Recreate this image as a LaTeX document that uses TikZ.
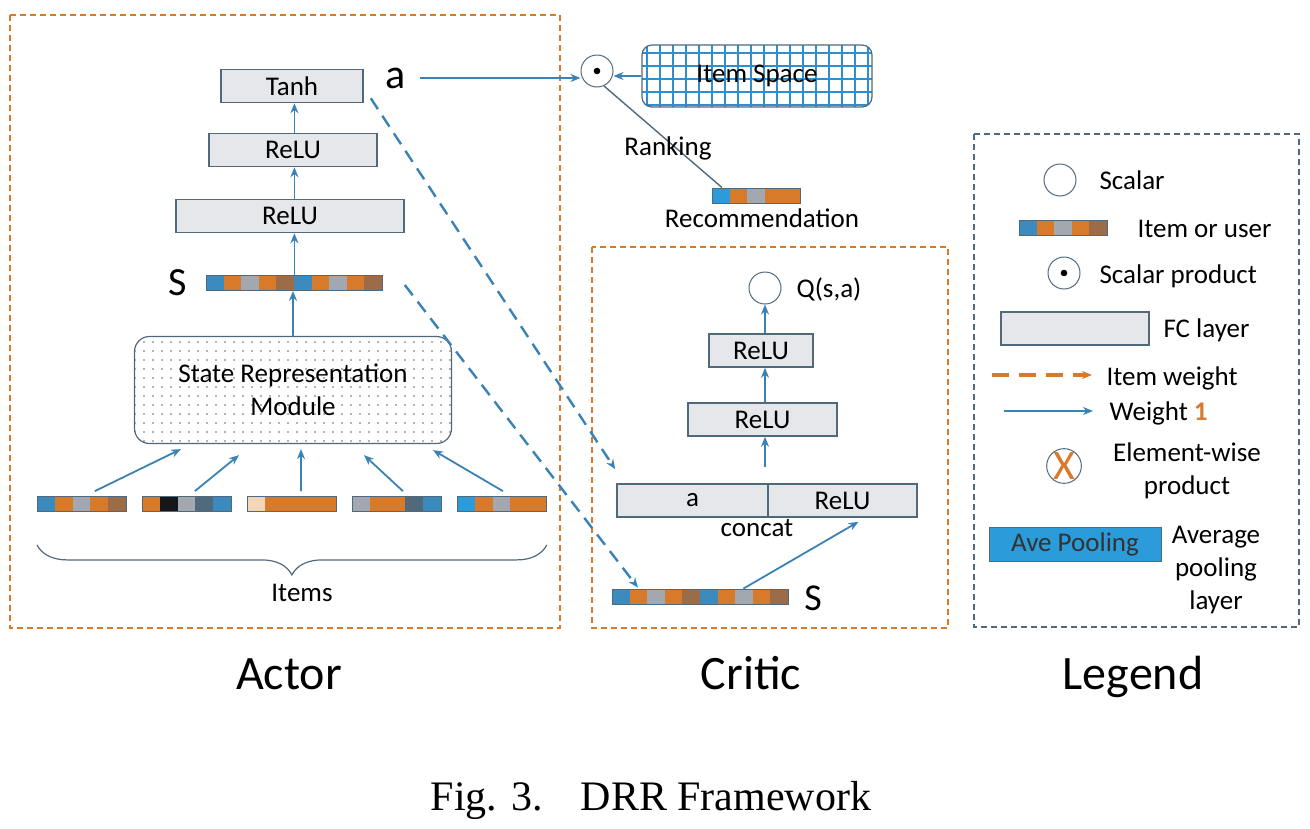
\documentclass[tikz,border=0pt]{standalone}
\usepackage{fontspec}
\setmainfont{Carlito}
\newfontfamily\capfont{Liberation Serif}
\usetikzlibrary{arrows.meta,decorations.pathreplacing,patterns.meta}

\definecolor{drrorange}{HTML}{D77A2A}
\definecolor{drrblue}{HTML}{3A82B5}
\definecolor{drrslate}{HTML}{51697C}
\definecolor{drrfc}{HTML}{E6E7EB}
\definecolor{cellblue}{HTML}{2B9BD9}
\definecolor{cellbluep}{HTML}{3C8BBE}
\definecolor{cellgray}{HTML}{A3A7AF}
\definecolor{cellbrown}{HTML}{9C6B48}
\definecolor{cellpeach}{HTML}{F5D5B8}
\definecolor{cellblack}{HTML}{16161B}
\definecolor{gridblue}{HTML}{2E8FD0}

% vector of coloured cells: name, left x, centre y, cell width, colours
\newcommand{\cellbar}[5]{%
  \foreach \col [count=\i from 0] in {#5}{
    \fill[\col] ({#2+\i*#4},{#3-7.5}) rectangle ++(#4,15);
    \xdef\ncell{\i}
  }
  \node[barframe, anchor=west, minimum width={(\ncell+1)*#4}] (#1) at (#2,#3) {};
}

\begin{document}
\begin{tikzpicture}[x=1pt, y=-1pt, >={Stealth[length=10pt,width=8pt]},
    fc/.style={draw=drrslate, line width=1.5pt, fill=drrfc, inner sep=0pt, minimum height=33pt},
    circ/.style={circle, draw=drrslate, line width=1pt, minimum size=32pt, inner sep=0pt},
    barframe/.style={draw=drrslate, line width=0.8pt, inner sep=0pt, minimum height=15pt},
    wire/.style={->, draw=drrblue, line width=1.8pt},
    itemdash/.style={->, draw=drrblue, line width=2.4pt, dash pattern=on 13pt off 8pt},
    panel/.style={draw=drrorange, line width=1.6pt, dash pattern=on 6pt off 4pt},
    lgtext/.style={anchor=base west},
    font=\fontsize{27}{33}\selectfont]
    \useasboundingbox (0,0) rectangle (1310,828);

    % Actor
    \draw[panel] (10,15) rectangle (560,628);
    \node[fc, minimum width=142pt] (T) at (292,86) {Tanh};
    \node[fc, minimum width=168pt] (A2) at (293,150) {ReLU};
    \node[fc, minimum width=228pt] (A1) at (290,216) {ReLU};
    \cellbar{AS}{206}{283}{17.6}{cellbluep,drrorange,cellgray,drrorange,cellbrown,cellbluep,drrorange,cellgray,drrorange,cellbrown}
    \node[font=\fontsize{40}{40}\selectfont] (sl) at (178,283) {S};
    \node[draw=drrslate, line width=1.2pt, rounded corners=15pt, minimum width=317pt, minimum height=107pt,
        align=center, pattern={Dots[distance=9pt,radius=0.9pt]}, pattern color=black!60] (M) at (293,390) {State Representation\\Module};
    \cellbar{I1}{37}{504}{17.8}{cellbluep,drrorange,cellgray,drrorange,cellbrown}
    \cellbar{I2}{142}{504}{17.8}{drrorange,cellblack,cellgray,drrslate,cellbluep}
    \cellbar{I3}{247}{504}{17.8}{cellpeach,drrorange,drrorange,drrorange,drrorange}
    \cellbar{I4}{352}{504}{17.8}{cellgray,drrorange,drrorange,drrslate,cellbluep}
    \cellbar{I5}{457}{504}{17.8}{cellblue,drrorange,cellgray,drrorange,drrorange}
    \draw[wire] ([xshift=13pt,yshift=5pt]I1.north) -- ([xshift=-112pt,yshift=-5pt]M.south);
    \draw[wire] ([xshift=8pt,yshift=5pt]I2.north) -- ([xshift=-54pt,yshift=-11pt]M.south);
    \draw[wire] ([xshift=9pt,yshift=5pt]I3.north) -- ([xshift=8pt,yshift=-5pt]M.south);
    \draw[wire] ([xshift=6pt,yshift=5pt]I4.north) -- ([xshift=71pt,yshift=-11pt]M.south);
    \draw[wire] ([xshift=1pt,yshift=5pt]I5.north) -- ([xshift=140pt,yshift=-6pt]M.south);
    \draw[wire] (M.north) -- (M.north |- AS.south);
    \draw[wire] (AS.north) -- (AS.north |- A1.south);
    \draw[wire] (A1.north -| AS.north) -- (A2.south -| AS.north);
    \draw[wire] (A2.north -| AS.north) -- (T.south -| AS.north);
    \draw[drrslate, line width=1.2pt, decorate, decoration={brace, amplitude=30pt, mirror}]
        ([yshift=-33pt]I1.south west) -- ([yshift=-33pt]I5.south east);
    \node[anchor=base] (items) at (302,601) {Items};
    \node[font=\fontsize{42}{42}\selectfont] (al) at (396,78) {a};

    % ranking
    \node[circ] (D) at (597,71) {};
    \fill (D.center) circle (3.3pt);
    \begin{scope}
        \clip[rounded corners=10pt] (642,45) rectangle (872,107);
        \foreach \gx in {647,660,...,872} \draw[gridblue, line width=1.3pt] (\gx,40) -- (\gx,112);
        \foreach \gy in {53,66,...,106} \draw[gridblue, line width=1.3pt] (636,\gy) -- (878,\gy);
    \end{scope}
    \node[draw=drrslate, line width=1.2pt, rounded corners=10pt, minimum width=230pt, minimum height=62pt] (IS) at (757,76) {Item Space};
    \draw[wire, shorten <=10pt] (al.east) -- (al.east -| D.west);
    \draw[wire] (IS.west) -- (IS.west -| D.east);
    \cellbar{R}{712}{195.5}{17.6}{cellblue,drrorange,cellgray,drrorange,drrorange}
    \draw[drrslate, line width=1.4pt] (D.-65) -- ([xshift=10pt]R.north west);
    \node[anchor=base] (rk) at (668,155) {Ranking};
    \node[anchor=base] (rc) at (762,227) {Recommendation};

    % Critic
    \draw[panel] (592,247) rectangle (948,628);
    \node[circ] (Q) at (765,288) {};
    \node[anchor=base] (ql) at (829,297) {Q(s,a)};
    \node[fc, minimum width=104pt] (C1) at (761,350.5) {ReLU};
    \node[fc, minimum width=149pt] (C2) at (762.5,419.5) {ReLU};
    \node[fc, minimum width=151pt] (ca) at (692.5,500.5) {a};
    \node[fc, minimum width=149pt] (cr) at (842.5,500.5) {ReLU};
    \node[anchor=base] (cc) at (757,536) {concat};
    \cellbar{CS}{612}{596.5}{17.6}{cellbluep,drrorange,cellgray,drrorange,cellbrown,cellbluep,drrorange,cellgray,drrorange,cellbrown}
    \node[font=\fontsize{38}{38}\selectfont] (cs) at (813,598) {S};
    \draw[wire, shorten <=16pt] (ca.north -| Q) -- (C2.south -| Q);
    \draw[wire] (C2.north -| Q) -- (C1.south -| Q);
    \draw[wire] (C1.north -| Q) -- (Q.south);
    \draw[wire] ([xshift=43pt]CS.north) -- ([xshift=16pt,yshift=-4pt]cr.south);
    \draw[itemdash] ([xshift=7pt,yshift=5pt]T.south east) -- ([xshift=-1pt,yshift=14pt]ca.north west);
    \draw[itemdash] ([xshift=22pt,yshift=-2pt]AS.east) -- ([xshift=26pt,yshift=1pt]CS.north west);

    % Legend
    \draw[draw=drrslate, line width=1.2pt, dash pattern=on 6pt off 4pt] (974,134) rectangle (1299,627);
    \node[circ] (LS) at (1060,180) {};
    \node[lgtext] at (1096,189) {Scalar};
    \cellbar{LI}{1019}{228}{17.6}{cellbluep,drrorange,cellgray,drrorange,cellbrown}
    \node[lgtext] at (1134,237) {Item or user};
    \node[circ] (LP) at (1064,273) {};
    \fill (LP.center) circle (3.3pt);
    \node[lgtext] at (1096,283) {Scalar product};
    \node[fc, minimum width=148pt] (LF) at (1075,328.5) {};
    \node[lgtext] at (1160,337) {FC layer};
    \coordinate (w0) at (992,375);
    \coordinate (w1) at (1092,375);
    \draw[->, draw=drrorange, line width=3.5pt, dash pattern=on 17pt off 10pt] (w0) -- (w1);
    \node[lgtext] at (1103,385) {Item weight};
    \coordinate (v0) at (1004,411);
    \coordinate (v1) at (1093,411);
    \draw[wire, line width=1.4pt] (v0) -- (v1);
    \node[lgtext] at (1106,420) {Weight {\color{drrorange}\textbf{1}}};
    \node[circ, text=drrorange, font=\fontsize{42}{42}\selectfont] (LE) at (1064,466) {X};
    \node[align=center] (le) at (1187,471) {Element-wise\\product};
    \node[draw=drrslate, fill=cellblue, line width=1pt, minimum width=172pt, minimum height=34pt,
        inner sep=0pt, text=black!80] (LA) at (1075,544) {Ave Pooling};
    \node[align=center] (la) at (1216,570) {Average\\pooling\\layer};

    % titles
    \node[anchor=base, font=\fontsize{48}{48}\selectfont] (actor) at (289,689) {Actor};
    \node[anchor=base, font=\fontsize{48}{48}\selectfont] (critic) at (751,689) {Critic};
    \node[anchor=base, font=\fontsize{48}{48}\selectfont] (legend) at (1133,689) {Legend};
    \node[anchor=base, font=\capfont\fontsize{42}{42}\selectfont] (cap) at (651,810) {Fig. 3.\hspace{38pt}DRR Framework};
\end{tikzpicture}
\end{document}
